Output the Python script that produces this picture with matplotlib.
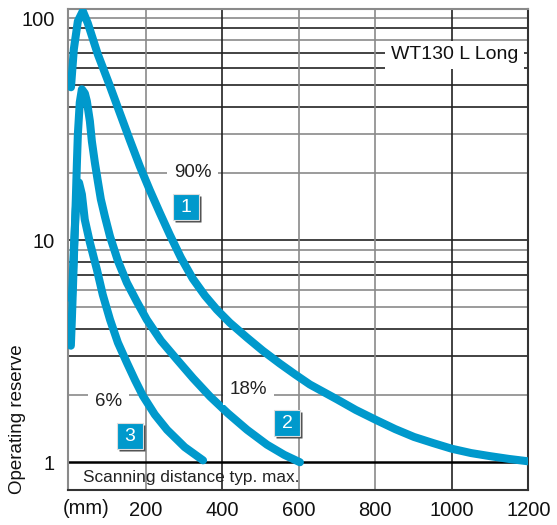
import matplotlib.pyplot as plt
import matplotlib.transforms as mtransforms

plt.rcParams['font.family'] = ['Liberation Sans', 'DejaVu Sans']

blue = '#0099cc'

# curve 1 (90 % remission), scanning distance in mm vs operating reserve
x90 = [5, 12.5, 23, 36, 49, 75, 107, 133, 159, 185, 211, 237, 263, 292, 323, 355, 386, 420,
       465, 506, 551, 590, 629, 700, 749, 802, 852, 901, 951, 1000, 1050, 1100, 1149, 1199]
y90 = [48.9, 72.6, 97, 107.7, 95, 68.9, 49.4, 37.3, 28.2, 21.5, 16.8, 13.3, 10.6, 8.36, 6.72,
       5.63, 4.87, 4.25, 3.64, 3.18, 2.78, 2.49, 2.24, 1.92, 1.72, 1.55, 1.41, 1.30, 1.22, 1.15,
       1.10, 1.065, 1.035, 1.01]

# curve 2 (18 %)
x18 = [4.7, 7.3, 10, 12.5, 15, 17.7, 20.4, 23, 28, 33.5, 41.3, 46.5, 54.4, 59.6, 67.4, 75.3, 83,
       93.6, 107, 127.5, 151, 177, 203, 240, 282, 324, 368, 415, 465, 517, 562, 603]
y18 = [3.35, 4.39, 6.0, 8.18, 11.2, 15.3, 22.0, 30.0, 41.8, 47.9, 45.9, 42.3, 34.4, 27.9, 22.4,
       18.4, 15.3, 12.8, 10.4, 8.09, 6.44, 5.29, 4.39, 3.53, 2.90, 2.39, 1.98, 1.66, 1.40, 1.20,
       1.08, 1.0]

# curve 3 (6 %)
x6 = [7.3, 12.5, 17.7, 23, 26, 33.5, 41, 54.4, 72.7, 88, 107, 127.5, 151, 172, 193, 224, 256,
      302, 350]
y6 = [5.41, 9.07, 13.8, 17.8, 18.2, 16.1, 12.4, 9.77, 7.38, 5.69, 4.39, 3.46, 2.81, 2.35, 1.99,
      1.64, 1.40, 1.17, 1.02]

x_ticks = [200, 400, 600, 800, 1000, 1200]
y_ticks = [1, 10, 100]
y_labels = ['1', '10', '100']

# grid lines (value, dark?)
h_grid = [(2, False), (3, True), (4, True), (5, False), (6, False), (7, True), (8, True), (9, False),
          (10, True), (20, False), (30, False), (40, True), (50, True), (60, True), (70, True),
          (80, False), (90, True), (100, False)]
v_grid = [(200, False), (400, True), (600, False), (800, False), (1000, True)]

fig = plt.figure(figsize=(5.57, 5.25), dpi=100)
ax = fig.add_axes([0.1226, 0.0667, 0.8262, 0.9168])
ax.set_yscale('log')
ax.set_xlim(-2, 1200)
ax.set_ylim(0.75, 110.5)

dark = '#222222'
gray = '#8a8a8a'
for v, d in h_grid:
    ax.axhline(v, color=dark if d else gray, lw=1.2, zorder=1)
for v, d in v_grid:
    ax.axvline(v, color=dark if d else gray, lw=1.2, zorder=1)
ax.axhline(1, color='black', lw=1.8, zorder=2)

for xs, ys in [(x90, y90), (x18, y18), (x6, y6)]:
    ax.plot(xs, ys, color=blue, lw=5.8, solid_capstyle='round', solid_joinstyle='round', zorder=3)

ax.set_xticks(x_ticks)
ax.set_xticklabels([str(t) for t in x_ticks])
ax.set_yticks(y_ticks)
ax.set_yticklabels(y_labels)
ax.minorticks_off()
ax.tick_params(axis='both', length=0, labelsize=14.5, colors='#111111')
ax.tick_params(axis='x', pad=8)
ax.tick_params(axis='y', pad=10)

for side in ['left', 'top']:
    ax.spines[side].set_color(gray)
for side in ['right', 'bottom']:
    ax.spines[side].set_color('#333333')
for s in ax.spines.values():
    s.set_linewidth(1.5)

white_box = dict(boxstyle='square,pad=0.35', fc='white', ec='none')
ax.text(323, 20.1, '90%', ha='center', va='center', fontsize=13.5, color='#222222', bbox=white_box, zorder=4)
ax.text(468, 2.12, '18%', ha='center', va='center', fontsize=13.5, color='#222222', bbox=white_box, zorder=4)
ax.text(103, 1.87, '6%', ha='center', va='center', fontsize=13.5, color='#222222', bbox=white_box, zorder=4)
ax.text(1007, 68.4, 'WT130 L Long', ha='center', va='center', fontsize=14, color='#111111',
        bbox=dict(boxstyle='square,pad=0.3', fc='white', ec='none'), zorder=4)
ax.text(36, 0.85, 'Scanning distance typ. max.', ha='left', va='center', fontsize=12.4, color='#222222', zorder=4)

shadow = mtransforms.offset_copy(ax.transData, fig=fig, x=2, y=-2, units='dots')
for x, y, s in [(305, 14.1, '1'), (570, 1.50, '2'), (159, 1.31, '3')]:
    ax.plot([x], [y], marker='s', ms=19, color='#4d4d4d', mec='none', transform=shadow, zorder=5)
    ax.plot([x], [y], marker='s', ms=19, color=blue, mec='#dddddd', mew=0.8, zorder=6)
    ax.text(x, y, s, ha='center', va='center', fontsize=14, color='white', zorder=7)

fig.text(18 / 557, 1 - 419 / 525, 'Operating reserve', rotation=90, ha='center', va='center',
         fontsize=13.5, color='#111111')
fig.text(86 / 557, 1 - 509 / 525, '(mm)', ha='center', va='center', fontsize=14.5, color='#111111')

fig.savefig('out.png', dpi=100)
